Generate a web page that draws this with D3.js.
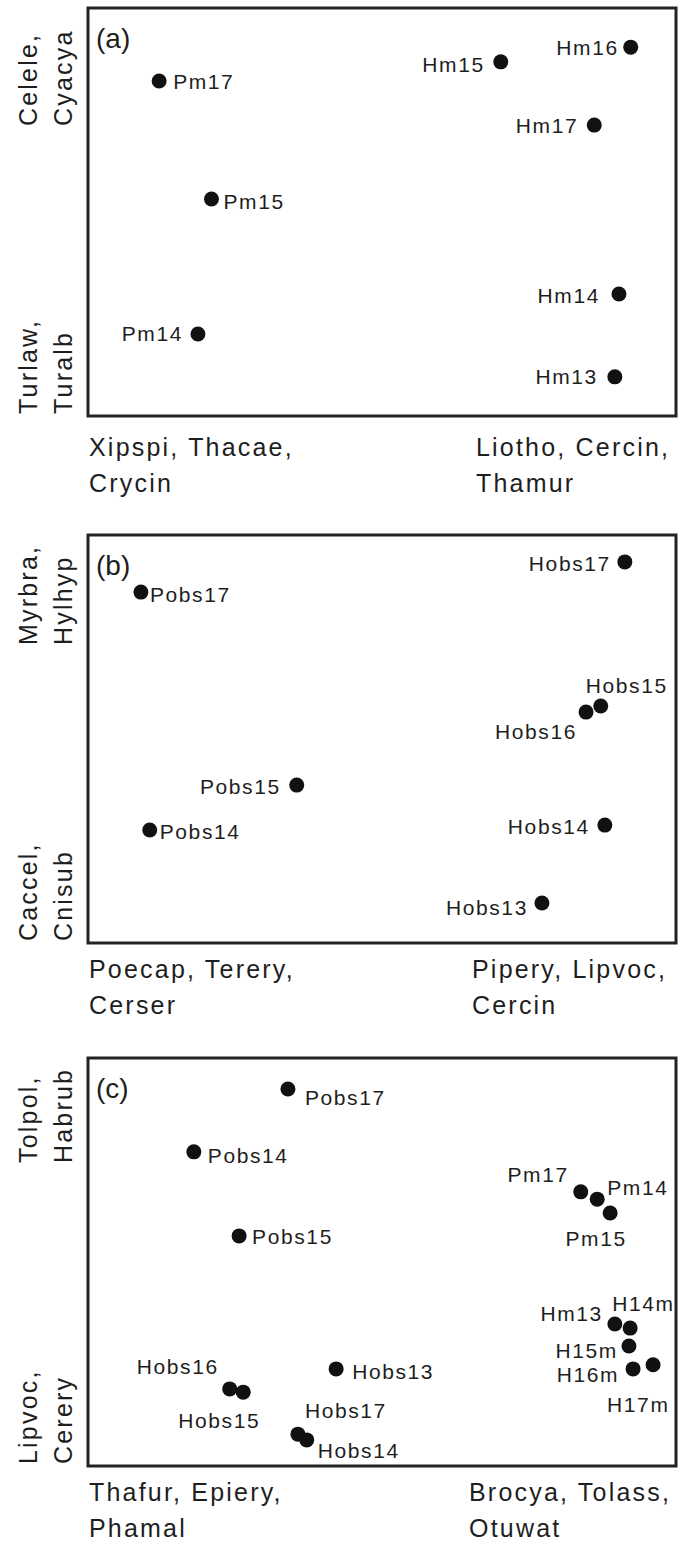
<!DOCTYPE html>
<html>
<head>
<meta charset="utf-8">
<script src="https://d3js.org/d3.v7.min.js"></script>
<style>
  body { margin: 0; background: #fff; }
  text { font-family: "Liberation Sans", Arial, sans-serif; fill: #1e1e1e; }
</style>
</head>
<body>
<div id="chart"></div>
<script>
// ---- data (ordination scores, 0-100 units) ----
var namesA = ["Pm17", "Pm15", "Pm14", "Hm15", "Hm16", "Hm17", "Hm14", "Hm13"];
var xA = [12.1, 21.0, 18.7, 70.2, 92.3, 86.1, 90.3, 89.6];
var yA = [82.1, 53.2, 20.1, 86.8, 90.4, 71.3, 29.9, 9.6];

var namesB = ["Hobs17", "Pobs17", "Hobs15", "Hobs16", "Pobs15", "Pobs14", "Hobs14", "Hobs13"];
var xB = [91.3, 9.0, 87.2, 84.7, 35.5, 10.5, 87.9, 77.2];
var yB = [93.4, 86.0, 58.1, 56.6, 38.7, 27.7, 28.9, 9.8];

var namesC = ["Pobs17", "Pobs14", "Pobs15", "Pm17", "Pm14", "Pm15", "Hm13", "H14m",
              "H15m", "H16m", "H17m", "Hobs16", "Hobs15", "Hobs13", "Hobs17", "Hobs14"];
var xC = [34.0, 18.0, 25.7, 83.8, 86.6, 88.8, 89.6, 92.2, 92.0, 92.7, 96.1, 24.1, 26.4, 42.2, 35.7, 37.2];
var yC = [92.4, 77.0, 56.4, 67.2, 65.4, 62.0, 34.8, 33.8, 29.4, 23.8, 24.8, 18.9, 18.1, 23.8, 7.8, 6.4];

// axis end labels (species lists)
var xLowA = ["Xipspi, Thacae,", "Crycin"], xHighA = ["Liotho, Cercin,", "Thamur"];
var yHighA = ["Celele,", "Cyacya"], yLowA = ["Turlaw,", "Turalb"];
var xLowB = ["Poecap, Terery,", "Cerser"], xHighB = ["Pipery, Lipvoc,", "Cercin"];
var yHighB = ["Myrbra,", "Hylhyp"], yLowB = ["Caccel,", "Cnisub"];
var xLowC = ["Thafur, Epiery,", "Phamal"], xHighC = ["Brocya, Tolass,", "Otuwat"];
var yHighC = ["Tolpol,", "Habrub"], yLowC = ["Lipvoc,", "Cerery"];

var tags = ["(a)", "(b)", "(c)"];

// ---- label placement (anchor, dx, dy from the dot) ----
var placeA = {
  Pm17: ["start", 14, 7.5], Pm15: ["start", 12, 10], Pm14: ["end", -15, 7.5],
  Hm15: ["end", -16, 10], Hm16: ["end", -12, 8], Hm17: ["end", -16, 8],
  Hm14: ["end", -19, 8.5], Hm13: ["end", -17, 7.5]
};
var placeB = {
  Hobs17: ["end", -14, 9], Pobs17: ["start", 9, 10], Hobs15: ["start", -15, -12.5],
  Hobs16: ["end", -9, 26.5], Pobs15: ["end", -16, 8.5], Pobs14: ["start", 10, 9],
  Hobs14: ["end", -15, 8.5], Hobs13: ["end", -14, 11.5]
};
var placeC = {
  Pobs17: ["start", 17, 15.5], Pobs14: ["start", 14, 11.5], Pobs15: ["start", 13, 8.5],
  Pm17: ["end", -12, -9.5], Pm14: ["start", 10, -4.5], Pm15: ["middle", -14, 32.5],
  Hm13: ["end", -12, -3.5], H14m: ["start", -18, -17.5], H15m: ["end", -11, 11.5],
  H16m: ["end", -14, 13.5], H17m: ["start", -46, 47.5],
  Hobs16: ["end", -11, -14.5], Hobs15: ["end", 17, 35.5], Hobs13: ["start", 16, 10.5],
  Hobs17: ["start", 7, -16.5], Hobs14: ["start", 11, 18.5]
};

var panels = [
  { names: namesA, xs: xA, ys: yA, place: placeA, xLow: xLowA, xHigh: xHighA, yHigh: yHighA, yLow: yLowA,
    top: 8, xLabY: 456, xHighX: 476, yHighStart: 126 },
  { names: namesB, xs: xB, ys: yB, place: placeB, xLow: xLowB, xHigh: xHighB, yHigh: yHighB, yLow: yLowB,
    top: 535, xLabY: 978, xHighX: 472, yHighStart: 645 },
  { names: namesC, xs: xC, ys: yC, place: placeC, xLow: xLowC, xHigh: xHighC, yHigh: yHighC, yLow: yLowC,
    top: 1058, xLabY: 1501, xHighX: 469, yHighStart: 1163 }
];

var W = 678, H = 1541;
var boxLeft = 88, boxRight = 676, boxH = 408;

var svg = d3.select("#chart").append("svg")
    .attr("width", W)
    .attr("height", H);

panels.forEach(function(p, i) {
  var bottom = p.top + boxH;
  var x = d3.scaleLinear().domain([0, 100]).range([boxLeft, boxRight]);
  var y = d3.scaleLinear().domain([0, 100]).range([bottom, p.top]);

  var g = svg.append("g");

  // frame
  g.append("rect")
    .attr("x", boxLeft)
    .attr("y", p.top)
    .attr("width", boxRight - boxLeft)
    .attr("height", boxH)
    .attr("fill", "none")
    .attr("stroke", "#222")
    .attr("stroke-width", 3);

  // panel tag
  g.append("text")
    .attr("x", 96)
    .attr("y", p.top + 40)
    .style("font-size", "28px")
    .text(tags[i]);

  var pts = p.names.map(function(n, j) { return { name: n, x: p.xs[j], y: p.ys[j] }; });

  g.selectAll("circle")
    .data(pts)
    .enter().append("circle")
      .attr("cx", function(d) { return x(d.x); })
      .attr("cy", function(d) { return y(d.y); })
      .attr("r", 7.5)
      .attr("fill", "#111");

  g.selectAll(".lab")
    .data(pts)
    .enter().append("text")
      .attr("class", "lab")
      .attr("x", function(d) { return x(d.x) + p.place[d.name][1]; })
      .attr("y", function(d) { return y(d.y) + p.place[d.name][2]; })
      .attr("text-anchor", function(d) { return p.place[d.name][0]; })
      .style("font-size", "21px")
      .style("letter-spacing", "1.6px")
      .text(function(d) { return d.name; });

  // x-axis end labels (two lines each)
  [[p.xLow, 89], [p.xHigh, p.xHighX]].forEach(function(l) {
    l[0].forEach(function(s, k) {
      g.append("text")
        .attr("x", l[1])
        .attr("y", p.xLabY + k * 36)
        .style("font-size", "25px")
        .style("letter-spacing", "2.2px")
        .text(s);
    });
  });

  // y-axis end labels, rotated
  [[p.yHigh, p.yHighStart], [p.yLow, bottom - 2]].forEach(function(l) {
    l[0].forEach(function(s, k) {
      g.append("text")
        .attr("transform", "translate(" + (37 + k * 35) + "," + l[1] + ") rotate(-90)")
        .style("font-size", "25px")
        .style("letter-spacing", "2.2px")
        .text(s);
    });
  });
});
</script>
</body>
</html>
